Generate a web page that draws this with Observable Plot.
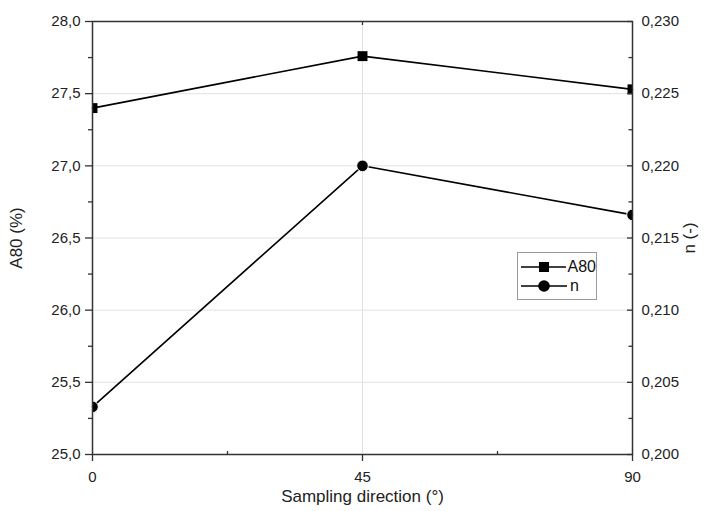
<!DOCTYPE html>
<html>
<head>
<meta charset="utf-8">
<script src="https://cdn.jsdelivr.net/npm/d3@7"></script>
<script src="https://cdn.jsdelivr.net/npm/@observablehq/plot@0.6"></script>
<style>
  body { margin: 0; background: #fff; font-family: "Liberation Sans", Arial, sans-serif; }
  #chart { position: relative; width: 704px; height: 511px; }
  .legend {
    position: absolute; left: 517px; top: 252px; width: 80px; height: 48px;
    box-sizing: border-box; border: 1px solid #9a9a9a; background: #fff;
    padding: 4px 0 0 2px; font-size: 16px; color: #111;
  }
  .legend .row { display: flex; align-items: center; height: 19px; }
  .legend svg { display: block; margin-right: 2px; }
</style>
</head>
<body>
<div id="chart"></div>
<script>
// Sampling direction (degrees from rolling direction)
const angles = [0, 45, 90];
// Elongation A80 (%)
const a80 = [27.40, 27.76, 27.53];
// Strain hardening exponent n (-)
const nValues = [0.2033, 0.2200, 0.2166];

// Axis ticks
const angleTicks = [0, 45, 90];
const angleMinor = [22.5, 67.5];
const a80Ticks = [25.0, 25.5, 26.0, 26.5, 27.0, 27.5, 28.0];
const a80Minor = [25.25, 25.75, 26.25, 26.75, 27.25, 27.75];
const nTicks = [0.200, 0.205, 0.210, 0.215, 0.220, 0.225, 0.230];
const nMinor = [0.2025, 0.2075, 0.2125, 0.2175, 0.2225, 0.2275];

// The n axis shares the plot height with A80: [0.200, 0.230] <-> [25, 28]
const nDomain = [0.200, 0.230];
const aDomain = [25, 28];
const nToA = v => aDomain[0] + (v - nDomain[0]) / (nDomain[1] - nDomain[0]) * (aDomain[1] - aDomain[0]);
const aToN = v => nDomain[0] + (v - aDomain[0]) / (aDomain[1] - aDomain[0]) * (nDomain[1] - nDomain[0]);

const fmtA = d => d.toFixed(1).replace(".", ",");
const fmtN = d => aToN(d).toFixed(3).replace(".", ",");

const rowsA = angles.map((angle, i) => ({angle, value: a80[i]}));
const rowsN = angles.map((angle, i) => ({angle, value: nToA(nValues[i])}));

const inner = a80Ticks.slice(1, -1);
const ink = "#222";
const font = "'Liberation Sans', Arial, sans-serif";

const plot = Plot.plot({
  width: 704,
  height: 511,
  marginLeft: 92,
  marginRight: 72,
  marginTop: 21,
  marginBottom: 57,
  style: {fontFamily: font, color: ink, background: "#fff"},
  x: {domain: [0, 90]},
  y: {domain: aDomain},
  marks: [
    Plot.gridY(inner, {stroke: "#e2e2e2", strokeOpacity: 1, strokeWidth: 1}),
    Plot.gridX([45], {stroke: "#e2e2e2", strokeOpacity: 1, strokeWidth: 1}),

    Plot.line(rowsA, {x: "angle", y: "value", stroke: "#000", strokeWidth: 1.6}),
    Plot.line(rowsN, {x: "angle", y: "value", stroke: "#000", strokeWidth: 1.6}),
    Plot.dot(rowsA, {x: "angle", y: "value", symbol: "square", r: 5.6, fill: "#000", clip: true}),
    Plot.dot(rowsN, {x: "angle", y: "value", symbol: "circle", r: 5.8, fill: "#000", stroke: "#fff", strokeWidth: 1, clip: true}),

    // left axis: A80
    Plot.axisY(a80Ticks, {anchor: "left", tickSize: 7, tickPadding: 5, tickFormat: fmtA, fontSize: 15, stroke: "#333", strokeWidth: 1.3, label: null}),
    Plot.axisY(a80Minor, {anchor: "left", tickSize: 4, tickFormat: () => "", stroke: "#333", strokeWidth: 1.3, label: null}),
    Plot.axisY(a80Ticks, {anchor: "left", tickSize: 0, tickFormat: () => "", fontSize: 17, label: "A80 (%)", labelAnchor: "center", labelOffset: 83, labelArrow: "none"}),

    // right axis: n, ticks pointing inward
    Plot.axisY(nTicks.map(nToA), {anchor: "left", frameAnchor: "right", tickSize: 5, tickFormat: () => "", stroke: "#333", strokeWidth: 1.3, label: null}),
    Plot.axisY(nMinor.map(nToA), {anchor: "left", frameAnchor: "right", tickSize: 3.5, tickFormat: () => "", stroke: "#333", strokeWidth: 1.3, label: null}),
    Plot.axisY(nTicks.map(nToA), {anchor: "right", tickSize: 0, tickPadding: 9, tickFormat: fmtN, fontSize: 15, label: null}),
    Plot.axisY(nTicks.map(nToA), {anchor: "right", tickSize: 0, tickFormat: () => "", fontSize: 17, label: "n (-)", labelAnchor: "center", labelOffset: 62, labelArrow: "none"}),

    // bottom axis: sampling direction
    Plot.axisX(angleTicks, {anchor: "bottom", tickSize: 7, tickPadding: 10, tickFormat: d => String(d), fontSize: 15, stroke: "#333", strokeWidth: 1.3, label: null}),
    Plot.axisX(angleMinor, {anchor: "top", frameAnchor: "bottom", tickSize: 4, tickFormat: () => "", stroke: "#333", strokeWidth: 1.3, label: null}),
    Plot.axisX([45], {anchor: "bottom", frameAnchor: "top", tickSize: 4, tickFormat: () => "", stroke: "#333", strokeWidth: 1.3, label: null}),
    Plot.axisX(angleTicks, {anchor: "bottom", tickSize: 0, tickFormat: () => "", fontSize: 17, label: "Sampling direction (°)", labelAnchor: "center", labelOffset: 47, labelArrow: "none"}),

    Plot.frame({stroke: "#333", strokeWidth: 1.5})
  ]
});

const chart = document.getElementById("chart");
chart.appendChild(plot);

// Legend box inside the plot area
const legend = document.createElement("div");
legend.className = "legend";
const entries = [
  {name: "A80", symbol: "square"},
  {name: "n", symbol: "circle"}
];
for (const e of entries) {
  const row = document.createElement("div");
  row.className = "row";
  const marker = e.symbol === "square"
    ? '<rect x="19" y="4" width="10" height="10" fill="#000"/>'
    : '<circle cx="24" cy="9" r="5.8" fill="#000"/>';
  row.innerHTML = `<svg width="48" height="18"><line x1="1" y1="9" x2="47" y2="9" stroke="#000" stroke-width="1.6"/>${marker}</svg><span>${e.name}</span>`;
  legend.appendChild(row);
}
chart.appendChild(legend);
</script>
</body>
</html>
